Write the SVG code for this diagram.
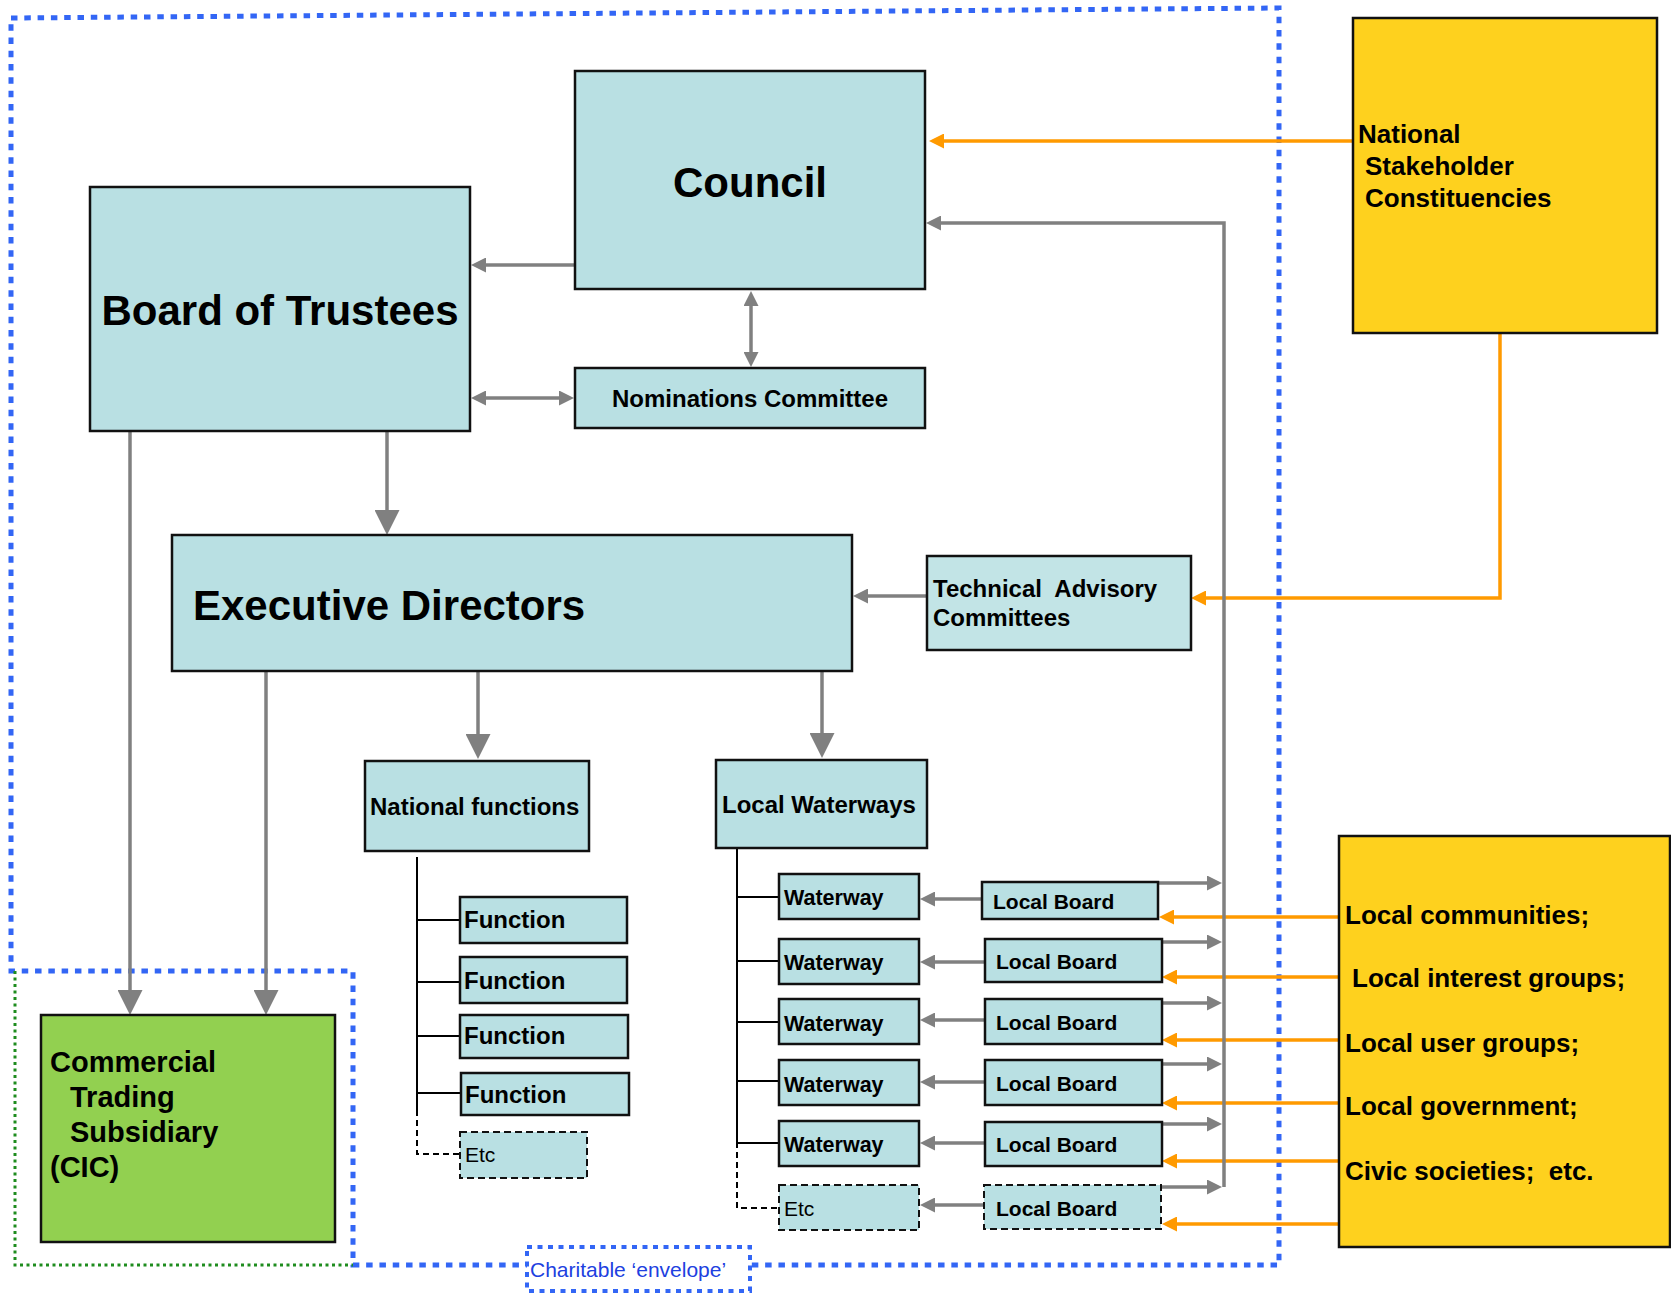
<svg xmlns="http://www.w3.org/2000/svg" width="1671" height="1293" viewBox="0 0 1671 1293">
<style>
.box{fill:#b9e0e3;stroke:#111;stroke-width:2.5}
.dbox{fill:#b9e0e3;stroke:#111;stroke-width:2;stroke-dasharray:7 4}
.yel{fill:#fed11e;stroke:#111;stroke-width:2.5}
.t{font-family:"Liberation Sans",Arial,sans-serif;font-weight:bold;fill:#000}
.r{font-family:"Liberation Sans",Arial,sans-serif;font-weight:normal;fill:#000}
.g{fill:none;stroke:#808080;stroke-width:3.5}
.o{fill:none;stroke:#ff9a00;stroke-width:3.5}
.k{fill:none;stroke:#000;stroke-width:2}
.kd{fill:none;stroke:#000;stroke-width:2;stroke-dasharray:6 4}
.env{fill:none;stroke:#3366f5;stroke-width:5;stroke-dasharray:6.5 6.8}
</style>
<defs>
<marker id="ag" markerUnits="userSpaceOnUse" markerWidth="15" markerHeight="15" refX="11" refY="7.5" orient="auto-start-reverse"><path d="M0,0 L15,7.5 L0,15 z" fill="#808080"/></marker>
<marker id="agl" markerUnits="userSpaceOnUse" markerWidth="25" markerHeight="25" refX="21" refY="12.5" orient="auto"><path d="M0,0 L25,12.5 L0,25 z" fill="#808080"/></marker>
<marker id="ao" markerUnits="userSpaceOnUse" markerWidth="15" markerHeight="15" refX="11" refY="7.5" orient="auto"><path d="M0,0 L15,7.5 L0,15 z" fill="#ff9a00"/></marker>
</defs>
<rect width="1671" height="1293" fill="#fff"/>

<g id="envelope">
<path class="env" d="M11,18 L1279,8 L1279,1265 L353,1265 L353,971 L11,971 Z"/>
<path d="M15,971 L15,1265 L353,1265" fill="none" stroke="#1e8c1e" stroke-width="3" stroke-dasharray="3 3.5"/>
<rect x="527" y="1247" width="223" height="44" fill="#fff" stroke="#3366f5" stroke-width="4" stroke-dasharray="5 5.5"/>
<text class="r" x="530" y="1277" font-size="21" fill="#2040e0" style="fill:#2040e0">Charitable ‘envelope’</text>
</g>

<g id="connectors">
<path class="o" d="M1353,141 H933" marker-end="url(#ao)"/>
<path class="o" d="M1500,333 V598 H1195" marker-end="url(#ao)"/>
<path class="o" d="M1339,917 H1163" marker-end="url(#ao)"/>
<path class="o" d="M1339,977 H1166" marker-end="url(#ao)"/>
<path class="o" d="M1339,1040 H1166" marker-end="url(#ao)"/>
<path class="o" d="M1339,1103 H1166" marker-end="url(#ao)"/>
<path class="o" d="M1339,1161 H1166" marker-end="url(#ao)"/>
<path class="o" d="M1339,1224 H1166" marker-end="url(#ao)"/>

<path class="g" d="M575,265 H475" marker-end="url(#ag)"/>
<path class="g" d="M475,398 H570" marker-start="url(#ag)" marker-end="url(#ag)"/>
<path class="g" d="M751,295 V363" marker-start="url(#ag)" marker-end="url(#ag)"/>
<path class="g" d="M387,431 V531" marker-end="url(#agl)"/>
<path class="g" d="M130,431 V1011" marker-end="url(#agl)"/>
<path class="g" d="M266,671 V1011" marker-end="url(#agl)"/>
<path class="g" d="M478,671 V755" marker-end="url(#agl)"/>
<path class="g" d="M822,671 V754" marker-end="url(#agl)"/>
<path class="g" d="M927,596 H857" marker-end="url(#ag)"/>
<path class="g" d="M1224,1187 V223 H930" marker-end="url(#ag)"/>

<path class="g" d="M982,899 H924" marker-end="url(#ag)"/>
<path class="g" d="M985,962 H924" marker-end="url(#ag)"/>
<path class="g" d="M985,1020 H924" marker-end="url(#ag)"/>
<path class="g" d="M985,1082 H924" marker-end="url(#ag)"/>
<path class="g" d="M985,1143 H924" marker-end="url(#ag)"/>
<path class="g" d="M984,1205 H924" marker-end="url(#ag)"/>

<path class="g" d="M1158,883 H1218" marker-end="url(#ag)"/>
<path class="g" d="M1162,942 H1218" marker-end="url(#ag)"/>
<path class="g" d="M1162,1003 H1218" marker-end="url(#ag)"/>
<path class="g" d="M1162,1064 H1218" marker-end="url(#ag)"/>
<path class="g" d="M1162,1124 H1218" marker-end="url(#ag)"/>
<path class="g" d="M1161,1187 H1218" marker-end="url(#ag)"/>

<path class="k" d="M417,857 V1110 M417,920 H460 M417,982 H460 M417,1036 H460 M417,1093 H461"/>
<path class="kd" d="M417,1110 V1154 H460"/>
<path class="k" d="M737,848 V1142 M737,897 H779 M737,961 H779 M737,1022 H779 M737,1081 H779 M737,1143 H779"/>
<path class="kd" d="M737,1142 V1208 H779"/>
</g>

<g id="council"><rect class="box" x="575" y="71" width="350" height="218"/><text class="t" x="750" y="197" font-size="42" text-anchor="middle">Council</text></g>
<g id="board-of-trustees"><rect class="box" x="90" y="187" width="380" height="244"/><text class="t" x="280" y="325" font-size="42" text-anchor="middle">Board of Trustees</text></g>
<g id="nominations-committee"><rect class="box" x="575" y="368" width="350" height="60"/><text class="t" x="750" y="407" font-size="24" text-anchor="middle">Nominations Committee</text></g>
<g id="executive-directors"><rect class="box" x="172" y="535" width="680" height="136"/><text class="t" x="193" y="620" font-size="42">Executive Directors</text></g>
<g id="technical-advisory"><rect class="box" x="927" y="556" width="264" height="94" style="fill:#c2e4e6"/><text class="t" x="933" y="597" font-size="24" xml:space="preserve">Technical  Advisory</text><text class="t" x="933" y="626" font-size="24">Committees</text></g>
<g id="national-functions"><rect class="box" x="365" y="761" width="224" height="90"/><text class="t" x="370" y="815" font-size="24">National functions</text></g>
<g id="local-waterways"><rect class="box" x="716" y="760" width="211" height="88"/><text class="t" x="722" y="813" font-size="24">Local Waterways</text></g>

<g id="cic"><rect x="41" y="1015" width="294" height="227" fill="#92d050" stroke="#111" stroke-width="2.5"/>
<text class="t" font-size="29"><tspan x="50" y="1072">Commercial</tspan><tspan x="70" y="1107">Trading</tspan><tspan x="70" y="1142">Subsidiary</tspan><tspan x="50" y="1177">(CIC)</tspan></text></g>

<g id="function-1"><rect class="box" x="460" y="897" width="167" height="46"/><text class="t" x="464" y="928" font-size="24">Function</text></g>
<g id="function-2"><rect class="box" x="460" y="957" width="167" height="46"/><text class="t" x="464" y="989" font-size="24">Function</text></g>
<g id="function-3"><rect class="box" x="460" y="1015" width="168" height="43"/><text class="t" x="464" y="1044" font-size="24">Function</text></g>
<g id="function-4"><rect class="box" x="461" y="1073" width="168" height="42"/><text class="t" x="465" y="1103" font-size="24">Function</text></g>
<g id="function-etc"><rect class="dbox" x="460" y="1132" width="127" height="46"/><text class="r" x="465" y="1162" font-size="21">Etc</text></g>

<g id="waterway-1"><rect class="box" x="779" y="874" width="140" height="45"/><text class="t" x="784" y="905" font-size="21.5">Waterway</text></g>
<g id="waterway-2"><rect class="box" x="779" y="939" width="140" height="45"/><text class="t" x="784" y="970" font-size="21.5">Waterway</text></g>
<g id="waterway-3"><rect class="box" x="779" y="999" width="140" height="45"/><text class="t" x="784" y="1031" font-size="21.5">Waterway</text></g>
<g id="waterway-4"><rect class="box" x="779" y="1060" width="140" height="45"/><text class="t" x="784" y="1092" font-size="21.5">Waterway</text></g>
<g id="waterway-5"><rect class="box" x="779" y="1121" width="140" height="45"/><text class="t" x="784" y="1152" font-size="21.5">Waterway</text></g>
<g id="waterway-etc"><rect class="dbox" x="779" y="1185" width="140" height="45"/><text class="r" x="784" y="1216" font-size="21">Etc</text></g>

<g id="local-board-1"><rect class="box" x="982" y="882" width="176" height="37"/><text class="t" x="993" y="909" font-size="21">Local Board</text></g>
<g id="local-board-2"><rect class="box" x="985" y="939" width="177" height="43"/><text class="t" x="996" y="969" font-size="21">Local Board</text></g>
<g id="local-board-3"><rect class="box" x="985" y="999" width="177" height="45"/><text class="t" x="996" y="1030" font-size="21">Local Board</text></g>
<g id="local-board-4"><rect class="box" x="985" y="1060" width="177" height="45"/><text class="t" x="996" y="1091" font-size="21">Local Board</text></g>
<g id="local-board-5"><rect class="box" x="985" y="1122" width="177" height="44"/><text class="t" x="996" y="1152" font-size="21">Local Board</text></g>
<g id="local-board-etc"><rect class="dbox" x="984" y="1185" width="177" height="44"/><text class="t" x="996" y="1216" font-size="21">Local Board</text></g>

<g id="national-stakeholders"><rect class="yel" x="1353" y="18" width="304" height="315"/>
<text class="t" font-size="26"><tspan x="1358" y="143">National</tspan><tspan x="1365" y="175">Stakeholder</tspan><tspan x="1365" y="207">Constituencies</tspan></text></g>

<g id="local-stakeholders"><rect class="yel" x="1339" y="836" width="331" height="411"/>
<text class="t" font-size="26" xml:space="preserve"><tspan x="1345" y="924">Local communities;</tspan><tspan x="1352" y="987">Local interest groups;</tspan><tspan x="1345" y="1052">Local user groups;</tspan><tspan x="1345" y="1115">Local government;</tspan><tspan x="1345" y="1180">Civic societies;  etc.</tspan></text></g>
</svg>
